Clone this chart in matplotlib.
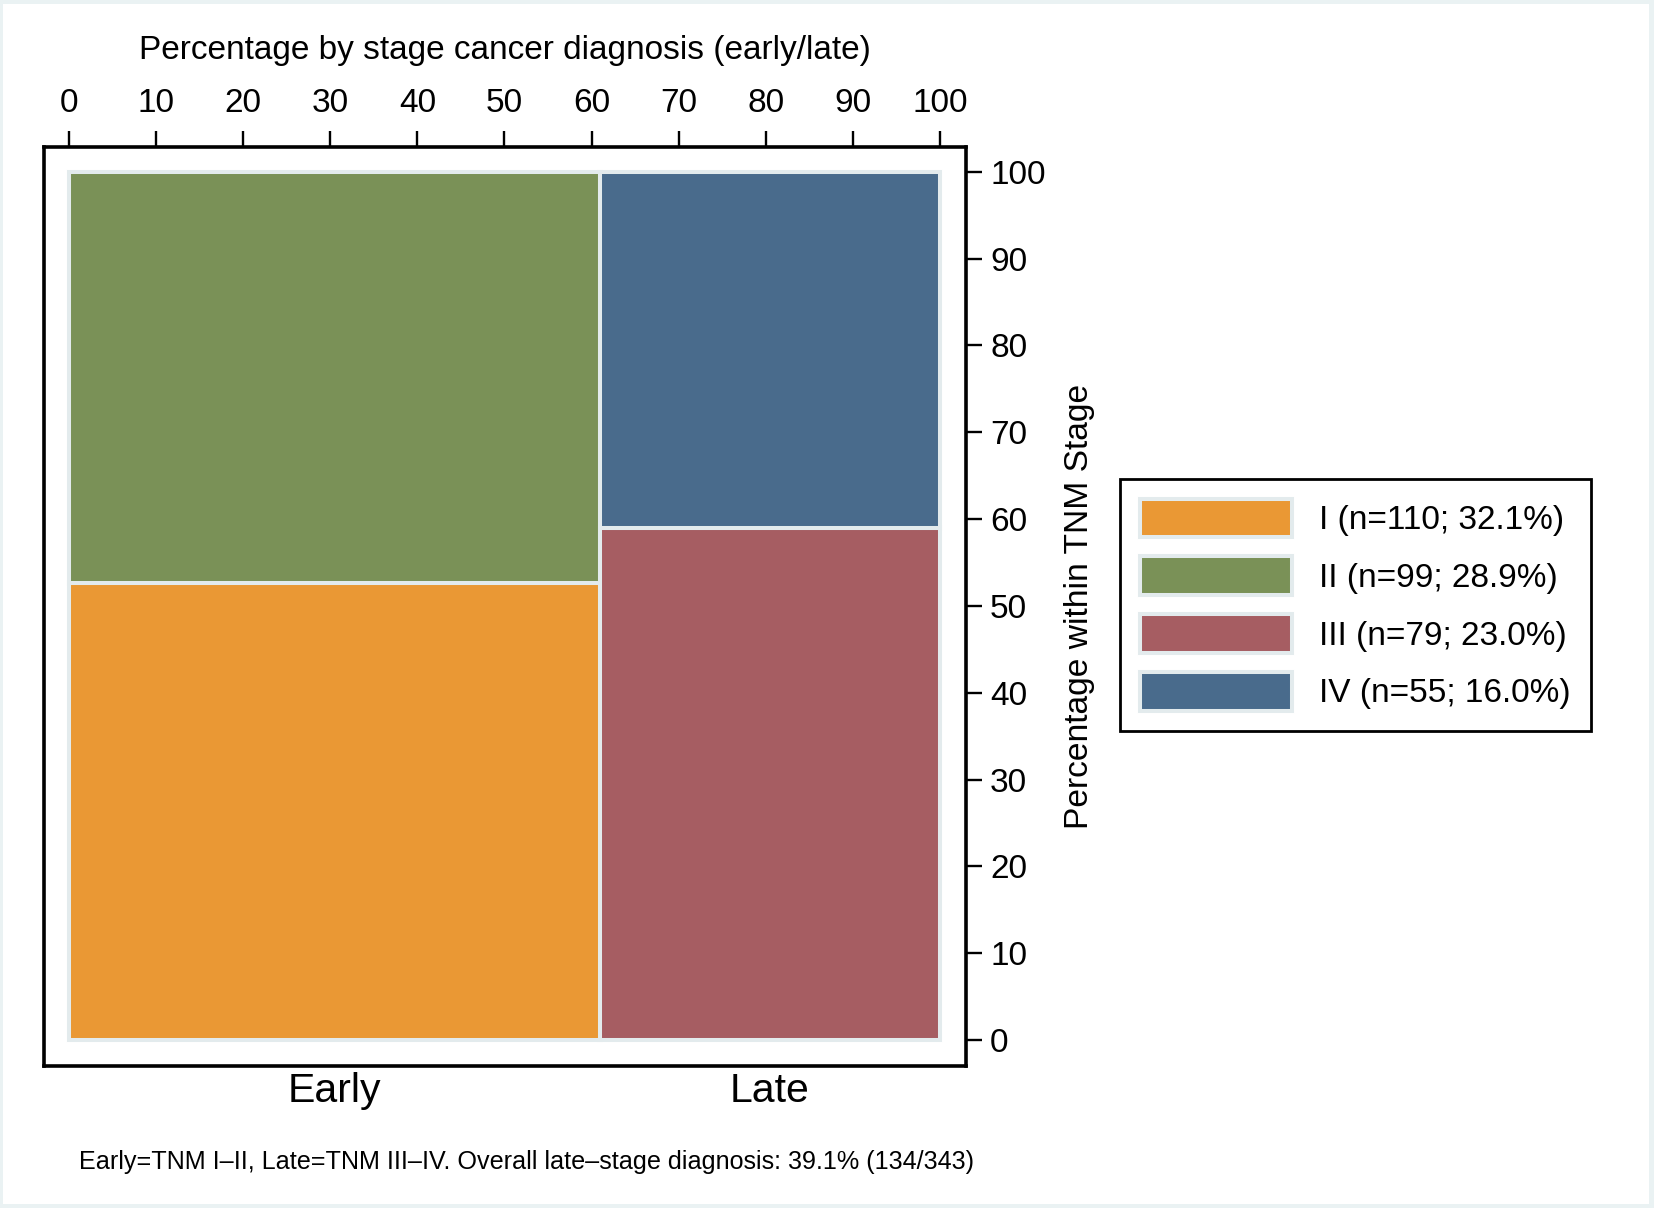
import matplotlib
matplotlib.use('Agg')
import matplotlib.pyplot as plt
from matplotlib.patches import Patch, Rectangle

# ---- data ----
groups = ['Early', 'Late']
stages = ['I', 'II', 'III', 'IV']
stage_counts = [110, 99, 79, 55]
stage_group = ['Early', 'Early', 'Late', 'Late']
stage_colors = ['#EA9834', '#7A9157', '#A65D62', '#496B8C']
x_ticks = [0, 10, 20, 30, 40, 50, 60, 70, 80, 90, 100]
y_ticks = [0, 10, 20, 30, 40, 50, 60, 70, 80, 90, 100]

plt.rcParams['font.family'] = ['Liberation Sans', 'DejaVu Sans']

W, H = 1654, 1208
fig = plt.figure(figsize=(W / 100, H / 100), dpi=100, facecolor='#EAF2F3')
fig.add_artist(Rectangle((3 / W, 4 / H), (W - 8) / W, (H - 8) / H,
                         transform=fig.transFigure, facecolor='white',
                         edgecolor='none', zorder=-10))

ax = fig.add_axes([43.7 / W, 1 - 1065.7 / H, (966 - 43.7) / W, (1065.7 - 147) / H])

total = sum(stage_counts)
group_tot = {g: sum(c for c, sg in zip(stage_counts, stage_group) if sg == g) for g in groups}
group_left = {}
acc = 0.0
for g in groups:
    group_left[g] = acc
    acc += 100 * group_tot[g] / total
group_width = {g: 100 * group_tot[g] / total for g in groups}

edge_col = '#E3EBED'
bottoms = {g: 0.0 for g in groups}
for s, c, g, col in zip(stages, stage_counts, stage_group, stage_colors):
    h = 100 * c / group_tot[g]
    ax.bar(group_left[g], h, width=group_width[g], bottom=bottoms[g], align='edge',
           color=col, edgecolor=edge_col, linewidth=2.9)
    bottoms[g] += h

ax.set_xlim(-2.9, 103.0)
ax.set_ylim(-2.96, 102.85)
ax.xaxis.tick_top()
ax.xaxis.set_label_position('top')
ax.yaxis.tick_right()
ax.yaxis.set_label_position('right')
ax.set_xticks(x_ticks)
ax.set_yticks(y_ticks)
ax.tick_params(axis='both', direction='out', length=11.5, width=1.7,
               labelsize=24, colors='black')
ax.tick_params(axis='x', pad=8.3)
ax.tick_params(axis='y', pad=5.8)
for sp in ax.spines.values():
    sp.set_linewidth(2.6)
    sp.set_color('black')

ax.set_xlabel('Percentage by stage cancer diagnosis (early/late)', fontsize=24.0, labelpad=21)
ax.set_ylabel('Percentage within TNM Stage', fontsize=24.2, labelpad=13)

centers = [group_left[g] + group_width[g] / 2 for g in groups]
sec = ax.secondary_xaxis('bottom')
sec.set_xticks(centers, labels=groups)
sec.tick_params(length=0, labelsize=29.5, pad=4.5)
sec.spines['bottom'].set_visible(False)

handles = [Patch(facecolor=col, edgecolor=edge_col, linewidth=2.9) for col in stage_colors]
labels = [f'{s} (n={c}; {100 * c / total:.1f}%)' for s, c in zip(stages, stage_counts)]
leg = ax.legend(handles, labels, loc='upper left',
                bbox_to_anchor=(1120 / W, 1 - 478.7 / H), bbox_transform=fig.transFigure,
                fontsize=24, frameon=True, fancybox=False, edgecolor='black',
                framealpha=1, borderpad=0.6, labelspacing=0.57, handlelength=4.55,
                handleheight=1.41, handletextpad=0.82, borderaxespad=0)
leg.get_frame().set_linewidth(2.0)

late_n = group_tot['Late']
foot = (f'Early=TNM I\u2013II, Late=TNM III\u2013IV. Overall late\u2013stage diagnosis: '
        f'{100 * late_n / total:.1f}% ({late_n}/{total})')
fig.text(79 / W, 1 - 1168.7 / H, foot, fontsize=18.05, va='baseline', ha='left')

fig.savefig('out.png', dpi=100, facecolor=fig.get_facecolor())
